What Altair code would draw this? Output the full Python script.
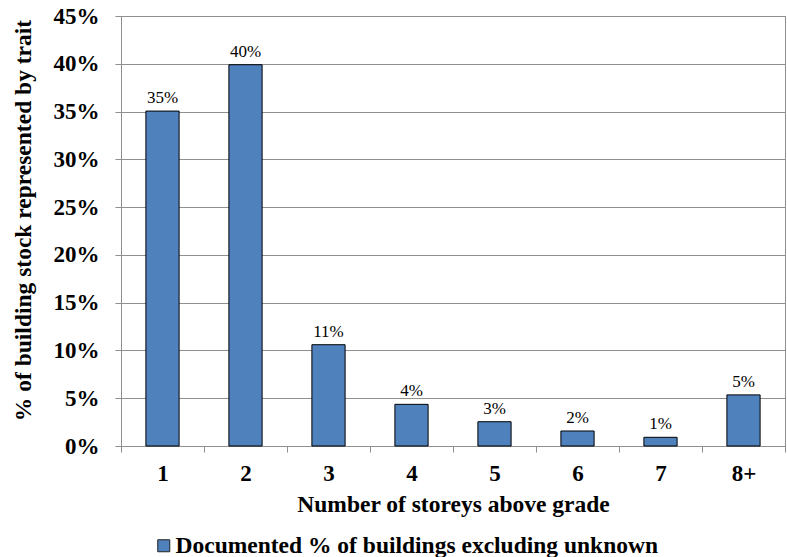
import altair as alt
import pandas as pd

storeys = ["1", "2", "3", "4", "5", "6", "7", "8+"]
shares = [35.05, 39.9, 10.6, 4.36, 2.54, 1.57, 0.91, 5.35]
bar_labels = ["35%", "40%", "11%", "4%", "3%", "2%", "1%", "5%"]
series_name = "Documented % of buildings excluding unknown"
y_ticks = [0, 0.05, 0.10, 0.15, 0.20, 0.25, 0.30, 0.35, 0.40, 0.45]

df = pd.DataFrame({
    "storeys": storeys,
    "share": [s / 100 for s in shares],
    "label": bar_labels,
    "series": [series_name] * len(storeys),
})

FONT = "Times New Roman, Liberation Serif, serif"
GRAY = "#8f8f8f"

x_enc = alt.X(
    "storeys:N",
    sort=storeys,
    scale=alt.Scale(paddingInner=0, paddingOuter=0),
    axis=alt.Axis(
        title="Number of storeys above grade",
        labelAngle=0,
        tickBand="extent",
        grid=False,
        domainColor=GRAY,
        tickColor=GRAY,
        tickSize=6,
        labelFont=FONT,
        labelFontSize=23,
        labelFontWeight="bold",
        labelColor="black",
        labelPadding=10,
        titleFont=FONT,
        titleFontSize=23.5,
        titleFontWeight="bold",
        titleColor="black",
        titleBaseline="alphabetic",
        titleY=65,
    ),
)

y_enc = alt.Y(
    "share:Q",
    scale=alt.Scale(domain=[0, 0.45], nice=False),
    axis=alt.Axis(
        title="% of building stock represented by trait",
        values=y_ticks,
        format=".0%",
        grid=True,
        gridColor=GRAY,
        domainColor=GRAY,
        tickColor=GRAY,
        tickSize=6,
        labelFont=FONT,
        labelFontSize=23,
        labelFontWeight="bold",
        labelColor="black",
        labelPadding=16,
        titleFont=FONT,
        titleFontSize=23.5,
        titleFontWeight="bold",
        titleColor="black",
        titleAngle=270,
        titleBaseline="alphabetic",
        titleAlign="center",
        titleX=-91,
        titleY=204,
    ),
)

bars = alt.Chart(df).mark_bar(
    width=alt.RelativeBandSize(0.4),
    stroke="black",
    strokeWidth=1,
).encode(
    x=x_enc,
    y=y_enc,
    color=alt.Color(
        "series:N",
        scale=alt.Scale(range=["#4F81BD"]),
        legend=alt.Legend(
            title=None,
            orient="none",
            legendX=31,
            legendY=518,
            padding=0,
            symbolType="square",
            symbolSize=144,
            symbolStrokeColor="#222222",
            symbolStrokeWidth=1,
            labelFont=FONT,
            labelFontSize=23.5,
            labelFontWeight="bold",
            labelColor="black",
            labelOffset=0,
            labelLimit=700,
        ),
    ),
)

texts = alt.Chart(df).mark_text(
    font=FONT,
    fontSize=17,
    color="black",
    baseline="alphabetic",
    dy=-8,
).encode(
    x=alt.X("storeys:N", sort=storeys),
    y=alt.Y("share:Q"),
    text="label:N",
)

chart = (bars + texts).properties(
    width=664,
    height=430,
    autosize=alt.AutoSizeParams(type="none"),
    padding={"left": 121, "top": 16, "right": 2, "bottom": 111},
    background="white",
).configure_view(
    stroke=GRAY,
    strokeWidth=1,
)

chart.save("out.html", embed_options={"renderer": "svg", "actions": False})
